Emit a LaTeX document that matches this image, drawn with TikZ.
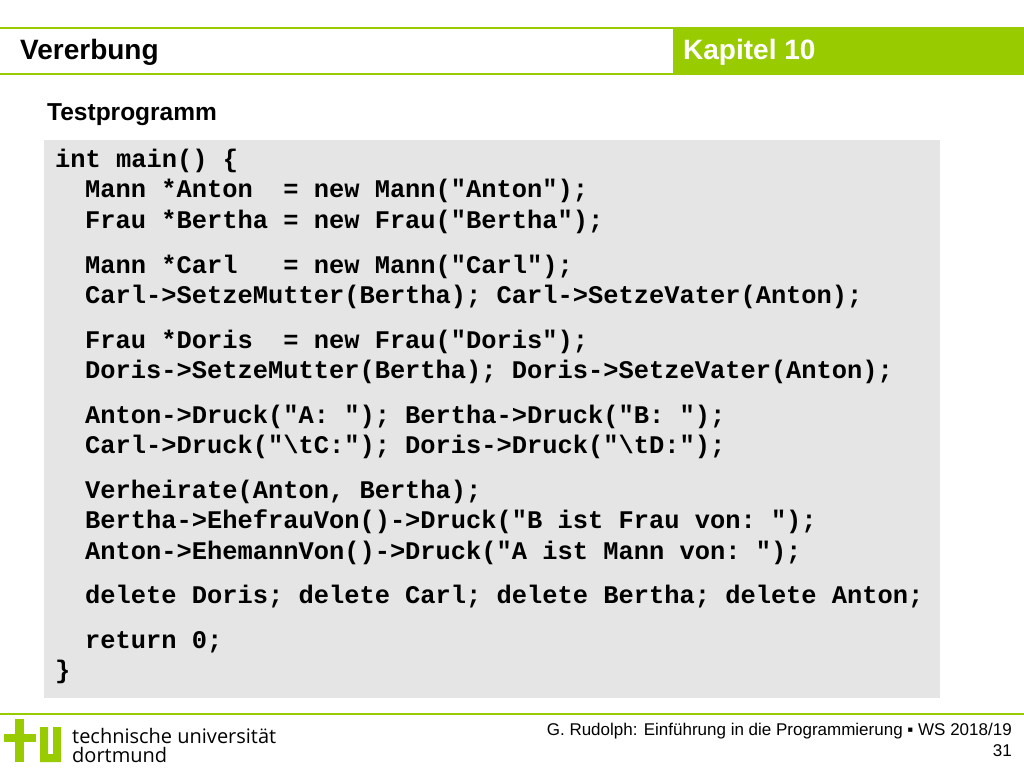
\documentclass[tikz,border=0pt]{standalone}
\usepackage{fontspec}
\setmainfont{Liberation Sans}
\setsansfont{Liberation Sans}
\setmonofont{Liberation Mono}
\usetikzlibrary{positioning}
\definecolor{tugreen}{rgb}{0.6,0.8,0}
\definecolor{codegray}{gray}{0.9}
\newfontfamily\lightfont{Open Sans}

\begin{document}
\begin{tikzpicture}[x=1pt, y=-1pt, every node/.style={inner sep=0pt},
	codeline/.style={anchor=west, font=\fontsize{25.4}{26}\selectfont\ttfamily\bfseries},
	footertext/.style={anchor=east, font=\fontsize{17}{19}\selectfont\sffamily}]
		\useasboundingbox[fill=white] (0,0) rectangle (1024,768);
		% header
		\fill[tugreen] (673,28) rectangle (1024,74);
		\draw[tugreen, line width=1.5pt] (0,28) -- (1024,28);
		\draw[tugreen, line width=1.5pt] (0,74) -- (1024,74);
		\node[anchor=west, font=\fontsize{28}{30}\selectfont\bfseries]              (title)   at (20,52)  {Vererbung};
		\node[anchor=west, font=\fontsize{28}{30}\selectfont\bfseries, text=white]  (chapter) at (683,52)  {Kapitel 10};
		\node[anchor=west, font=\fontsize{24.5}{26}\selectfont\bfseries]            (sub)     at (47,115) {Testprogramm};
		% code
		\fill[codegray] (44,140) rectangle (940,698);
		\node[codeline] (l1)  at (55,161) {int main() \{};
		\node[codeline] (l2)  at (85,191) {Mann *Anton\ \ = new Mann("Anton");};
		\node[codeline] (l3)  at (85,222) {Frau *Bertha = new Frau("Bertha");};
		\node[codeline] (l4)  at (85,267) {Mann *Carl\ \ \ = new Mann("Carl");};
		\node[codeline] (l5)  at (85,297) {Carl->SetzeMutter(Bertha); Carl->SetzeVater(Anton);};
		\node[codeline] (l6)  at (85,342) {Frau *Doris\ \ = new Frau("Doris");};
		\node[codeline] (l7)  at (85,372) {Doris->SetzeMutter(Bertha); Doris->SetzeVater(Anton);};
		\node[codeline] (l8)  at (85,417) {Anton->Druck("A: "); Bertha->Druck("B: ");};
		\node[codeline] (l9)  at (85,447) {Carl->Druck("\textbackslash tC:"); Doris->Druck("\textbackslash tD:");};
		\node[codeline] (l10) at (85,492) {Verheirate(Anton, Bertha);};
		\node[codeline] (l11) at (85,522) {Bertha->EhefrauVon()->Druck("B ist Frau von: ");};
		\node[codeline] (l12) at (85,553) {Anton->EhemannVon()->Druck("A ist Mann von: ");};
		\node[codeline] (l13) at (85,597) {delete Doris; delete Carl; delete Bertha; delete Anton;};
		\node[codeline] (l14) at (85,642) {return 0;};
		\node[codeline] (l15) at (55,672) {\}};
		% footer
		\draw[tugreen, line width=1.5pt] (0,714) -- (1024,714);
		\fill[tugreen] (15,719) rectangle (24,762);
		\fill[tugreen] (4,734) rectangle (36,742);
		\fill[tugreen] (40,762) -- (40,727) -- (48,727) -- (48,754) -- (53,754) -- (53,727) -- (61,727) -- (61,762) -- cycle;
		\node[anchor=west, font=\fontsize{20}{22}\selectfont\lightfont] (uni)  at (72,736) {technische universität};
		\node[anchor=west, font=\fontsize{20}{22}\selectfont\lightfont] (city) at (72,755) {dortmund};
		\node[footertext] (course) at (1012,731) {G. Rudolph: Einführung in die Programmierung ▪ WS 2018/19};
		\node[footertext] (page)   at (1012,751) {31};
	\end{tikzpicture}
\end{document}
